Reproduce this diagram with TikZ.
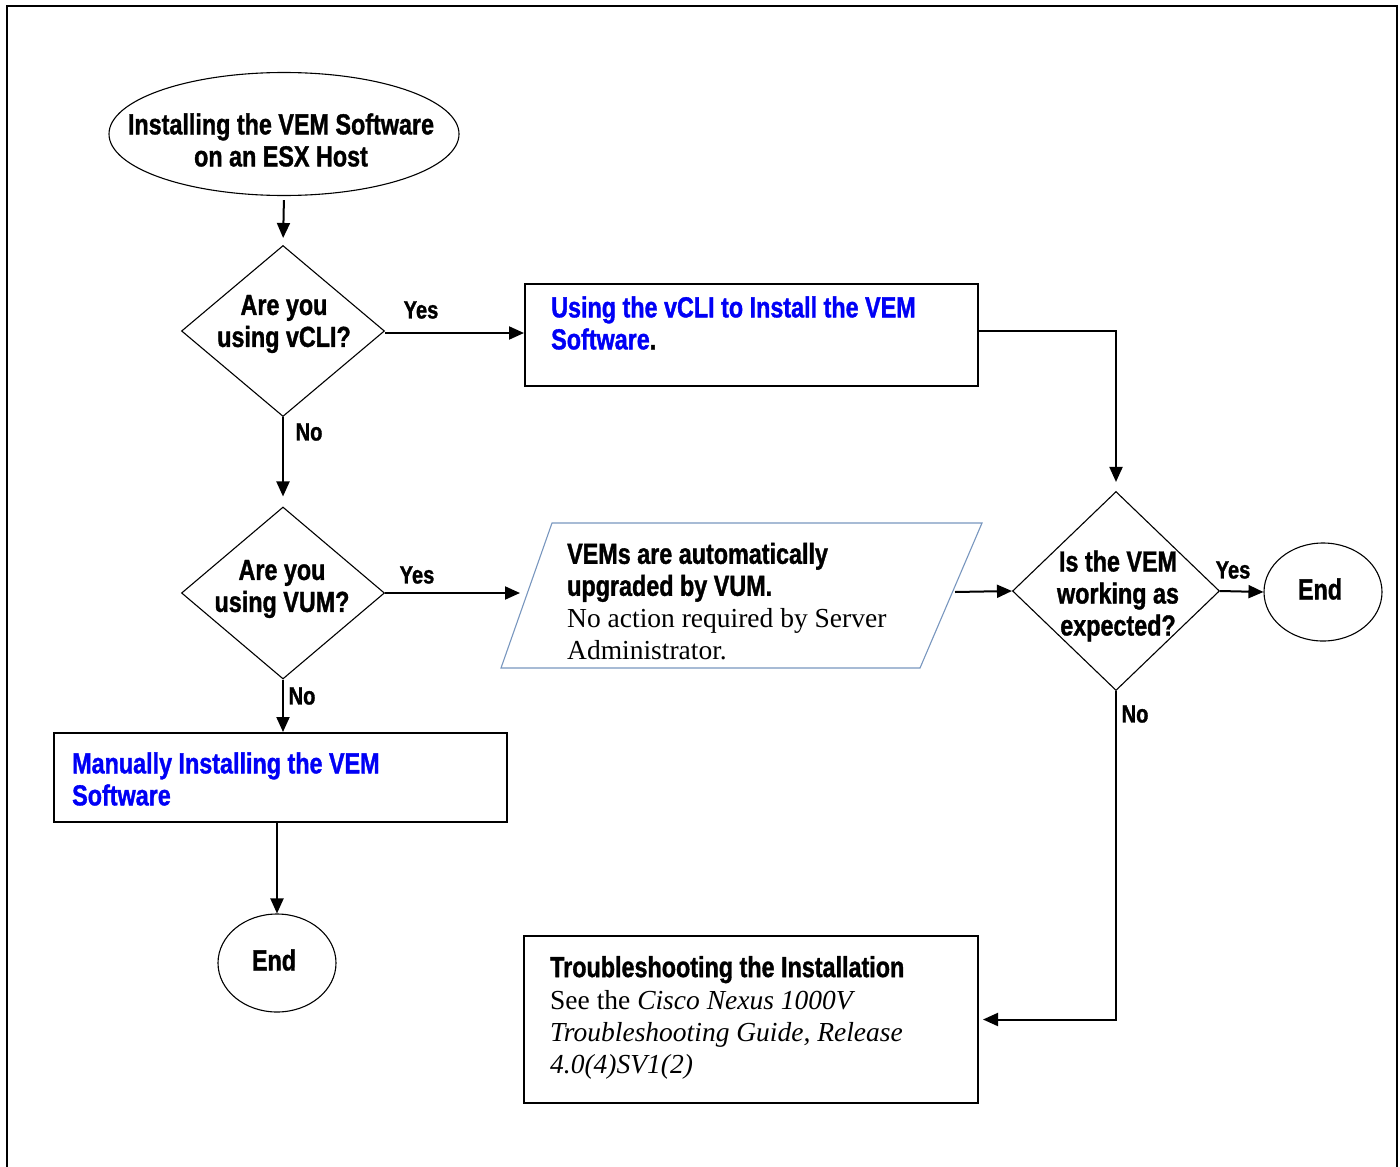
\documentclass[tikz,border=0pt]{standalone}
\usepackage{fontspec}
\setmainfont{Liberation Serif}
\newfontfamily\cond[FakeStretch=0.805,FakeBold=1.2]{Liberation Sans Bold}
\usetikzlibrary{shapes.geometric,arrows.meta}
\definecolor{linkblue}{RGB}{0,0,245}
\definecolor{parcol}{RGB}{120,150,190}
\begin{document}
\begin{tikzpicture}[x=1pt,y=-1pt,
  conn/.style={line width=2pt,-{Triangle[length=15pt,width=13pt]}},
  dec/.style={diamond,draw,line width=1.1pt,inner sep=0pt},
  term/.style={ellipse,draw,line width=1.1pt,inner sep=0pt},
  proc/.style={rectangle,draw,line width=2pt,inner sep=0pt},
  main/.style={font={\cond\fontsize{29}{32}\selectfont},align=center,inner sep=0pt},
  boxtext/.style={font={\fontsize{27.5}{32}\selectfont},align=left,inner sep=0pt,anchor=west},
  lbl/.style={font={\cond\fontsize{25}{28}\selectfont},inner sep=0pt}
]
\useasboundingbox (0,0) rectangle (1400,1167);
% outer frame
\draw[line width=2pt] (7,1169) -- (7,6) -- (1397,6) -- (1397,1169);

% shapes
\node[term,minimum width=350pt,minimum height=123pt] (start) at (284,134) {};
\node[dec,minimum width=203pt,minimum height=171pt] (d1) at (283,331) {};
\node[dec,minimum width=203pt,minimum height=172pt] (d2) at (283,593) {};
\node[dec,minimum width=207pt,minimum height=199pt] (d3) at (1116,591) {};
\node[proc,minimum width=453pt,minimum height=102pt] (b1) at (751.5,335) {};
\node[proc,minimum width=453pt,minimum height=89pt] (mb) at (280.5,777.5) {};
\node[proc,minimum width=454pt,minimum height=167pt] (tb) at (751,1019.5) {};
\node[term,minimum width=118pt,minimum height=98pt] (endR) at (1323,592) {};
\node[term,minimum width=118pt,minimum height=98pt] (endB) at (277,963) {};

% parallelogram
\coordinate (pa) at (552,523);
\coordinate (pb) at (982,523);
\coordinate (pc) at (920,668);
\coordinate (pd) at (501,668);
\draw[parcol,line width=1.1pt] (pa) -- (pb) -- (pc) -- (pd) -- cycle;
\coordinate (parIn) at (520,593);
\coordinate (parOut) at (955,592);

% texts
\node[main] (tstart) at (281,140) {Installing the VEM Software\\on an ESX Host};
\node[main] (td1) at (284,324) {Are you\\using vCLI?};
\node[main] (td2) at (282,589) {Are you\\using VUM?};
\node[main] (td3) at (1118,596) {Is the VEM\\working as\\expected?};
\node[main] (tendR) at (1320,589) {End};
\node[main] (tendB) at (274,960) {End};
\node[main,align=left,anchor=west,text=linkblue] (tb1) at (551,323)
  {Using the vCLI to Install the VEM\\Software\textcolor{black}{.}};
\node[main,align=left,anchor=west,text=linkblue] (tmb) at (72,779)
  {Manually Installing the VEM\\Software};
\node[boxtext] (tpar) at (567,601.5)
  {{\cond\fontsize{29}{32}\selectfont VEMs are automatically}\\
   {\cond\fontsize{29}{32}\selectfont upgraded by VUM.}\\
   No action required by Server\\
   Administrator.};
\node[boxtext] (ttb) at (550,1017.5)
  {{\cond\fontsize{29}{32}\selectfont Troubleshooting the Installation}\\
   See the \textit{Cisco Nexus 1000V}\\
   \textit{Troubleshooting Guide, Release}\\
   \textit{4.0(4)SV1(2)}};

% labels
\node[lbl] (yes1) at (421,310) {Yes};
\node[lbl] (no1) at (309,432) {No};
\node[lbl] (yes2) at (417,575) {Yes};
\node[lbl] (no2) at (302,696) {No};
\node[lbl] (yes3) at (1233,570) {Yes};
\node[lbl] (no3) at (1135,714) {No};

% connectors
\draw[conn,shorten <=4pt,shorten >=7pt] (start.south) -- (d1.north);
\draw[conn] ([yshift=-2pt]d1.east) -- ([yshift=-2pt]d1.east -| b1.west);
\draw[conn,shorten >=9pt] ([yshift=4pt]b1.east) -| (d3.north);
\draw[conn,shorten >=10pt] (d1.south) -- (d2.north);
\draw[conn] (d2.east) -- (parIn);
\draw[conn] (parOut) -- (d3.west);
\draw[conn] (d3.east) -- (endR.west);
\draw[conn,shorten >=4pt] (d3.south) |- (tb.east);
\draw[conn] (d2.south) -- (mb.north -| d2.south);
\draw[conn] (endB.north |- mb.south) -- (endB.north);
\end{tikzpicture}
\end{document}
